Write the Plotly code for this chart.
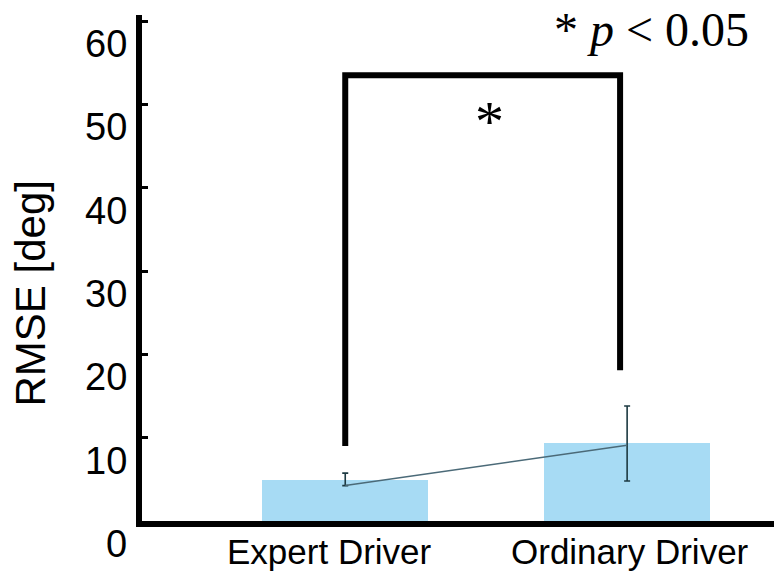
import plotly.graph_objects as go

# Driver groups and RMSE values
categories = ["Expert Driver", "Ordinary Driver"]
rmse_bar = [4.92, 9.32]

# Connecting line through group means, with spread limits
mean_line = [4.25, 9.1]
upper = [5.75, 13.8]
lower = [4.25, 4.8]

# y-axis ticks
tick_values = [0, 10, 20, 30, 40, 50, 60]
tick_labels = ["0", "10", "20", "30", "40", "50", "60"]

# Significance bracket heights (left foot, right foot, top)
bracket_left_foot = 9.0
bracket_right_foot = 18.1
bracket_top = 53.5

SANS = "Liberation Sans, Arial, sans-serif"
SERIF = "Liberation Serif, Times New Roman, serif"

fig = go.Figure()

fig.add_trace(go.Bar(
    x=categories, y=rmse_bar, width=0.588,
    marker=dict(color="#a7dbf4", line=dict(width=0)),
    showlegend=False,
))

fig.add_trace(go.Scatter(
    x=categories, y=mean_line, mode="lines",
    line=dict(color="#4b6a78", width=1.6),
    error_y=dict(
        type="data", symmetric=False,
        array=[u - m for u, m in zip(upper, mean_line)],
        arrayminus=[m - l for m, l in zip(mean_line, lower)],
        color="#1d3a42", thickness=1.6, width=3,
    ),
    showlegend=False,
))

# Significance bracket
fig.add_shape(
    type="path", xref="x", yref="y",
    path=(f"M 0,{bracket_left_foot} L 0,{bracket_top} "
          f"L 0.975,{bracket_top} L 0.975,{bracket_right_foot}"),
    line=dict(color="black", width=6),
)

annotations = []
for v, t in zip(tick_values, tick_labels):
    annotations.append(dict(
        x=0, xref="paper", y=v, yref="y", text=t, showarrow=False,
        xanchor="right", yanchor="middle", xshift=-13, yshift=-23,
        font=dict(family=SANS, size=38, color="black"),
    ))

# Category labels under the axis
label_shift = [-16, 3]
for c, dx in zip(categories, label_shift):
    annotations.append(dict(
        x=c, xref="x", y=0, yref="y", text=c, showarrow=False,
        xanchor="center", yanchor="middle", xshift=dx, yshift=-30,
        font=dict(family=SANS, size=35, color="black"),
    ))

annotations.append(dict(
    x=0, xref="paper", y=27.3, yref="y", text="RMSE [deg]", showarrow=False,
    textangle=-90, xanchor="center", yanchor="middle", xshift=-112,
    font=dict(family=SANS, size=42, color="black"),
))

annotations.append(dict(
    x=0.513, xref="x", y=47.9, yref="y", text="*", showarrow=False,
    xanchor="center", yanchor="middle",
    font=dict(family=SERIF, size=58, color="black"),
))

annotations.append(dict(
    x=0.964, xref="paper", y=0.972, yref="paper",
    text="* <i>p</i> &lt; 0.05", showarrow=False,
    xanchor="right", yanchor="middle",
    font=dict(family=SERIF, size=48, color="black"),
))

fig.update_layout(
    width=774, height=581,
    margin=dict(l=142, r=0, t=15, b=60),
    paper_bgcolor="white", plot_bgcolor="white",
    annotations=annotations,
    bargap=0,
)

fig.update_xaxes(
    type="category", range=[-0.721, 1.521],
    showline=True, linewidth=6, linecolor="black",
    ticks="", showgrid=False, zeroline=False, showticklabels=False,
)

fig.update_yaxes(
    range=[0, 60.72], tickvals=tick_values, showticklabels=False,
    showline=True, linewidth=6, linecolor="black",
    ticks="inside", ticklen=6, tickwidth=3, tickcolor="black",
    showgrid=False, zeroline=False,
)

fig.write_html("out.html")
